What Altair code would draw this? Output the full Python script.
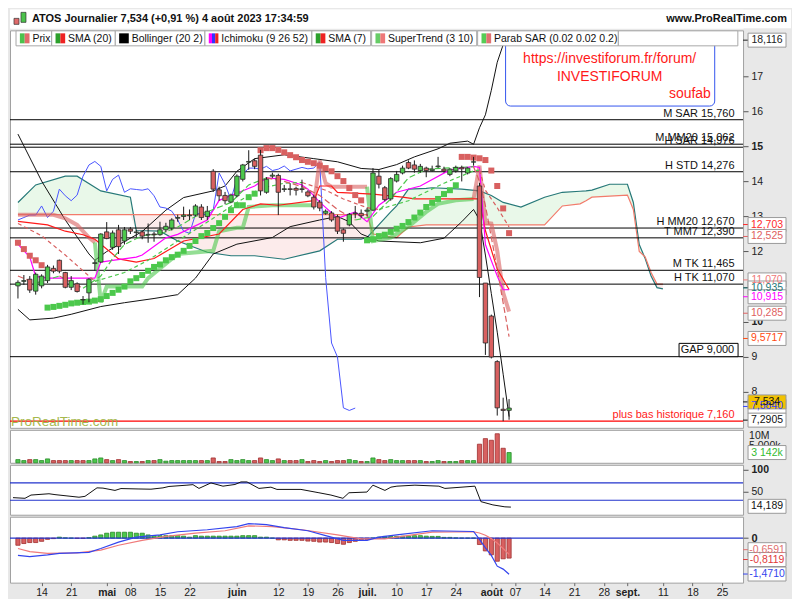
import altair as alt
import pandas as pd

# ---------------------------------------------------------------- data
# trading days 0..83 = 6 Apr 2023 .. 4 Aug 2023
opens = [11.02, 11.15, 11.21, 10.87, 11.02, 11.17, 11.52, 11.75, 11.40, 10.98,
         11.08, 10.63, 10.82, 11.66, 11.70, 12.56, 12.12, 12.62, 12.30, 12.64,
         12.54, 12.56, 12.47, 12.50, 12.48, 12.62, 12.67, 12.95, 13.00, 13.02,
         13.04, 13.27, 13.00, 14.29, 13.76, 13.60, 13.41, 13.59, 14.06, 14.55,
         14.59, 14.75, 13.69, 14.15, 14.17, 13.77, 13.79, 13.80, 13.77, 13.70,
         13.55, 13.41, 13.09, 13.10, 12.99, 12.62, 12.76, 13.08, 13.09, 13.15,
         13.18, 14.15, 13.82, 13.50, 14.01, 14.24, 14.54, 14.47, 14.31, 14.38,
         14.31, 14.42, 14.35, 14.20, 14.30, 14.40, 14.24, 14.55, 13.87, 11.10,
         10.16, 8.86, 7.50, 7.47]
highs = [11.18, 11.33, 11.30, 11.40, 11.35, 11.62, 11.60, 11.77, 11.42, 11.30,
         11.12, 10.73, 11.24, 11.75, 12.52, 12.84, 12.60, 12.76, 12.70, 12.70,
         12.62, 12.60, 12.80, 12.56, 12.85, 12.82, 12.95, 13.05, 13.28, 13.20,
         13.35, 13.35, 13.30, 14.35, 13.85, 13.70, 13.65, 14.20, 14.50, 14.89,
         14.65, 14.90, 14.12, 14.25, 14.22, 13.90, 13.95, 13.85, 14.05, 13.75,
         13.62, 13.47, 13.20, 13.15, 13.05, 12.66, 13.10, 13.30, 13.20, 13.25,
         14.38, 14.33, 13.87, 14.12, 14.30, 14.45, 14.60, 14.60, 14.50, 14.42,
         14.45, 14.70, 14.42, 14.38, 14.45, 14.45, 14.40, 14.70, 13.96, 11.10,
         10.20, 8.90, 7.83, 7.79]
lows = [10.66, 11.05, 10.82, 10.77, 10.95, 11.10, 11.38, 11.38, 10.95, 10.90,
        10.83, 10.49, 10.55, 11.45, 11.68, 12.35, 12.05, 11.93, 12.20, 12.50,
        12.40, 12.35, 12.25, 12.28, 12.45, 12.55, 12.60, 12.85, 12.90, 12.90,
        13.00, 12.90, 12.90, 13.70, 13.45, 13.35, 13.38, 13.55, 14.00, 14.33,
        14.35, 13.60, 13.65, 14.10, 13.04, 13.70, 13.60, 13.60, 13.68, 13.55,
        13.20, 13.15, 13.05, 12.85, 12.50, 12.28, 12.72, 12.95, 12.95, 13.00,
        13.15, 13.80, 13.43, 13.45, 13.97, 14.20, 14.35, 14.25, 14.25, 14.12,
        14.28, 14.38, 14.25, 14.15, 14.25, 14.00, 14.20, 14.45, 10.70, 9.05,
        8.95, 7.32, 7.16, 7.20]
closes = [11.12, 11.17, 10.90, 11.35, 11.30, 11.56, 11.44, 11.44, 10.98, 11.17,
          10.86, 10.62, 11.21, 11.68, 12.50, 12.37, 12.53, 12.14, 12.62, 12.58,
          12.56, 12.44, 12.49, 12.48, 12.62, 12.72, 12.90, 12.97, 13.04, 13.04,
          13.30, 12.97, 13.15, 13.78, 13.59, 13.45, 13.61, 14.15, 14.47, 14.57,
          14.43, 13.73, 14.06, 14.18, 13.69, 13.79, 13.77, 13.75, 13.79, 13.59,
          13.27, 13.24, 13.15, 12.90, 12.58, 12.52, 13.06, 13.10, 13.02, 13.18,
          14.24, 13.92, 13.48, 14.08, 14.20, 14.38, 14.38, 14.35, 14.43, 14.31,
          14.35, 14.44, 14.30, 14.35, 14.40, 14.36, 14.38, 14.56, 11.26, 9.39,
          8.99, 7.54, 7.466, 7.534]
volumes_m = [0.98, 0.68, 0.98, 0.98, 0.68, 1.19, 0.68, 0.68, 0.68, 0.68,
             0.68, 0.68, 0.68, 1.19, 1.48, 0.98, 0.68, 0.98, 0.68, 0.39,
             0.39, 0.39, 0.68, 0.68, 0.98, 0.50, 0.68, 0.68, 0.68, 0.68,
             0.68, 0.68, 0.68, 1.48, 0.39, 0.39, 0.98, 0.68, 0.98, 0.68,
             0.68, 1.48, 0.98, 0.68, 1.19, 0.68, 0.68, 0.68, 0.98, 0.39,
             0.68, 0.39, 0.68, 0.39, 0.68, 0.68, 0.98, 0.68, 0.39, 0.39,
             1.48, 0.98, 0.68, 0.98, 0.68, 0.68, 0.68, 0.68, 0.68, 0.39,
             0.39, 0.68, 0.39, 0.39, 0.39, 0.68, 0.68, 0.68, 5.70, 7.40,
             6.90, 8.90, 4.45, 3.142]

sar_vals = [12.25, 12.07, 11.88, 11.75, 11.61,
            10.40, 10.42, 10.45, 10.48, 10.52, 10.54, 10.56, 10.57, 10.60, 10.64,
            10.73, 10.82, 10.91, 11.00, 11.15, 11.24, 11.33, 11.45, 11.56, 11.63,
            11.75, 11.84, 11.91, 12.02, 12.16, 12.30, 12.44, 12.53, 12.67, 12.81,
            12.99, 13.18, 13.32, 13.32, 13.55, 13.65,
            14.89, 14.95, 14.95, 14.90, 14.83, 14.75, 14.69, 14.61, 14.56, 14.52,
            14.45, 14.38, 14.29, 14.15, 14.01, 13.81, 13.61, 13.46,
            12.32, 12.35, 12.44, 12.48, 12.56, 12.65, 12.73, 12.84, 12.97, 13.11,
            13.27, 13.39, 13.50, 13.64, 13.75, 13.89,
            14.70, 14.70, 14.68, 14.66, 14.61, 14.31, 13.87, 13.23, 12.525]

st_idx = [0, 6, 8, 10, 12, 13,
          14, 15, 21, 22, 25, 27, 33, 34, 37, 38, 39, 43, 50,
          51, 52, 53, 59,
          60, 63, 66, 69, 71, 74, 77,
          78, 79, 80, 81, 82, 83]
st_vals = [13.05, 13.05, 12.95, 12.76, 12.40, 12.26,
           10.55, 11.00, 11.00, 11.24, 11.65, 11.93, 12.02, 12.58, 12.68, 12.68, 13.27, 13.32, 13.32,
           14.60, 13.95, 13.85, 13.85,
           12.30, 12.40, 12.71, 13.13, 13.36, 13.46, 13.50,
           14.45, 12.82, 12.80, 12.02, 10.83, 10.285]
st_up = [0] * 6 + [1] * 13 + [0] * 4 + [1] * 7 + [0] * 6

sma20_idx = [0, 4, 8, 13, 18, 22, 27, 33, 37, 41, 45, 48, 52, 55, 59, 61, 66, 72, 77, 78, 79, 81, 83]
sma20_vals = [12.80, 12.45, 11.90, 11.15, 11.40, 11.75, 12.30, 12.95, 13.40, 13.80, 13.95, 13.97,
              13.75, 13.50, 13.25, 13.20, 13.45, 13.95, 14.30, 14.32, 13.75, 13.25, 12.703]
sma7_idx = [0, 3, 7, 11, 14, 16, 18, 21, 24, 27, 30, 33, 36, 39, 42, 45, 48, 51, 54, 57,
            60, 63, 66, 69, 72, 77, 78, 79, 81, 83]
sma7_vals = [11.30, 11.10, 11.30, 10.95, 11.30, 11.80, 12.20, 12.45, 12.50, 12.70, 13.00, 13.20,
             13.40, 13.90, 14.10, 14.00, 13.85, 13.60, 13.20, 12.90, 13.00, 13.50, 14.10, 14.35,
             14.38, 14.42, 14.00, 13.31, 11.50, 9.5717]

bbu_idx = [0, 4, 8, 12, 13, 15, 21, 25, 28, 33, 35, 37, 40, 45, 50, 54, 58, 61, 64, 67,
           71, 73, 76, 77, 78, 79, 80, 81, 82, 83]
bbu_vals = [15.35, 14.01, 12.90, 11.93, 11.75, 12.00, 12.57, 13.18, 13.54, 13.73, 13.87, 14.29,
            14.65, 14.76, 14.65, 14.56, 14.37, 14.34, 14.48, 14.70, 14.93, 15.09, 15.15, 15.06,
            15.53, 15.90, 16.60, 17.40, 17.90, 18.116]
bbl_idx = [0, 2, 6, 9, 14, 18, 23, 27, 30, 33, 37, 43, 46, 51, 54, 56, 58, 61, 68, 72,
           75, 77, 78, 79, 80, 81, 82, 83]
bbl_vals = [10.35, 10.05, 10.10, 10.21, 10.43, 10.54, 10.66, 10.77, 11.24, 11.93, 12.21, 12.40,
            12.71, 12.90, 13.00, 12.85, 12.50, 12.30, 12.25, 12.38, 12.85, 13.20, 12.90, 11.90,
            10.80, 9.70, 8.50, 7.2905]

tenkan_idx = [0, 2, 3, 5, 13, 14, 16, 20, 21, 25, 27, 32, 34, 36, 40, 42, 45, 48, 49, 50,
              51, 54, 57, 59, 61, 64, 68, 73, 77, 78, 79, 80, 81, 82, 83]
tenkan_vals = [12.21, 11.84, 11.29, 11.24, 11.24, 11.70, 11.75, 11.84, 11.90, 12.39, 12.49, 12.90,
               13.46, 13.60, 13.87, 14.10, 14.06, 13.90, 13.78, 13.59, 13.41, 12.95, 13.13, 12.85,
               13.32, 13.69, 13.87, 14.33, 14.43, 14.40, 12.20, 11.74, 11.30, 10.91, 10.915]
kijun_idx = [0, 5, 8, 11, 13, 17, 20, 23, 28, 34, 38, 41, 44, 50, 51, 53, 54, 60, 65, 67,
             78, 79, 81, 83]
kijun_vals = [12.86, 12.76, 12.58, 12.48, 12.35, 11.79, 11.70, 11.80, 12.30, 12.50, 13.20, 13.36,
              13.32, 13.45, 13.87, 13.87, 13.69, 13.64, 13.55, 13.50, 13.50, 12.60, 11.50, 10.915]

cloud_idx = [0, 3, 8, 10, 14, 19, 20, 24, 27, 32, 36, 40, 45, 51, 54, 58, 59, 60, 63, 64,
             66, 69, 70, 75, 78, 80, 82, 85, 89, 92, 95, 96, 97, 100, 103, 104, 105, 106, 107, 108, 109]
senkou_a = [13.40, 13.90, 14.15, 14.15, 13.73, 13.55, 12.60, 12.58, 12.30, 11.98, 11.88, 11.88,
            11.78, 12.02, 12.35, 12.35, 12.40, 12.58, 13.13, 13.30, 13.78, 13.80, 13.82, 13.78,
            13.73, 13.60, 13.40, 13.27, 13.55, 13.69, 13.72, 13.73, 13.75, 13.92, 13.92, 13.40,
            12.20, 11.80, 11.30, 10.97, 10.935]
senkou_b = [13.05] * 17 + [12.50, 12.42, 12.40, 12.70, 12.76, 12.76, 12.76, 12.76, 12.76, 12.76,
                           12.76, 12.76, 13.30, 13.36, 13.45, 13.55, 13.58, 13.61, 13.20, 12.00,
                           11.85, 11.40, 11.07, 11.07]

rsi_idx = [0, 2, 3, 6, 7, 9, 11, 12, 14, 15, 17, 18, 21, 23, 25, 26, 29, 30, 31, 33,
           35, 37, 38, 39, 41, 43, 44, 48, 51, 53, 55, 56, 59, 60, 62, 63, 64, 67, 71, 72,
           77, 78, 80, 82, 83]
rsi_vals = [36, 34.5, 42, 45, 43, 40, 37, 39, 58.6, 58, 52.7, 57, 56, 55.5, 58.6, 61.8, 64.8, 66,
            57.3, 70, 62.5, 66.4, 72.3, 72.3, 57.3, 60.2, 55, 55, 47.3, 42, 34.5, 47.3, 48.9,
            64.8, 52.7, 60.2, 62.5, 64.8, 62.5, 57.3, 62.5, 26.8, 19.3, 14.8, 14.189]

macd_idx = [0, 2, 5, 7, 12, 14, 17, 20, 24, 27, 32, 37, 39, 42, 45, 49, 52, 55, 59, 61,
            64, 70, 77, 78, 79, 80, 81, 82, 83]
macd_vals = [-0.70, -0.75, -0.68, -0.62, -0.58, -0.42, -0.16, 0.04, 0.13, 0.26, 0.34, 0.47,
             0.59, 0.55, 0.43, 0.30, 0.10, -0.09, -0.09, 0.04, 0.13, 0.30, 0.27, -0.05, -0.40,
             -0.70, -1.14, -1.26, -1.471]
signal_idx = [0, 2, 5, 10, 14, 17, 21, 25, 30, 35, 39, 43, 48, 54, 58, 62, 64, 70, 77, 78,
              79, 80, 81, 82, 83]
signal_vals = [-0.42, -0.55, -0.62, -0.60, -0.49, -0.29, -0.09, 0.07, 0.20, 0.30, 0.50, 0.47,
               0.34, 0.13, -0.03, -0.03, 0.04, 0.24, 0.26, 0.21, 0.12, -0.02, -0.20, -0.42, -0.6591]
hist_vals = [-0.29, -0.22, -0.18, -0.18, -0.13, -0.05, -0.02, 0.04, 0.01, 0.0,
             -0.01, -0.01, 0.02, 0.08, 0.13, 0.20, 0.24, 0.24, 0.24, 0.24,
             0.20, 0.20, 0.13, 0.10, 0.10, 0.10, 0.10, 0.10, 0.08, 0.04,
             0.10, 0.08, 0.08, 0.08, 0.08, 0.08, 0.08, 0.08, 0.10, 0.10,
             0.10, 0.04, 0.04, 0.0, -0.07, -0.07, -0.09, -0.09, -0.09, -0.12,
             -0.13, -0.16, -0.16, -0.18, -0.22, -0.25, -0.18, -0.13, -0.09, -0.05,
             0.0, 0.04, 0.07, 0.07, 0.07, 0.08, 0.08, 0.10, 0.10, 0.08,
             0.07, 0.07, 0.03, 0.03, 0.01, 0.0, 0.0, 0.0, -0.26, -0.52,
             -0.68, -0.94, -0.84, -0.8119]

level_vals = [15.760, 15.062, 14.976, 14.276, 12.670, 12.390, 11.465, 11.070]
level_txt = ["M SAR 15,760", "M MM20 15,062", "H SAR 14,976", "H STD 14,276",
             "H MM20 12,670", "T MM7 12,390", "M TK 11,465", "H TK 11,070"]
gap_val, gap_txt = 9.000, "GAP 9,000"
low_val, low_txt = 7.160, "plus bas historique 7,160"

tick_idx = [4, 9, 15, 19, 24, 29, 37, 44, 49, 54, 59, 64, 69, 74, 80, 84, 89, 94, 99, 103, 109, 114, 119]
tick_lbl = ["14", "21", "mai", "08", "15", "22", "juin", "12", "19", "26", "juil.", "10", "17", "24",
            "août", "07", "14", "21", "28", "sept.", "11", "18", "25"]
month_idx = [15, 37, 59, 80, 103]

price_lbl_txt = ["18,116", "12,703", "12,525", "11,070", "10,935", "10,915", "10,285", "9,5717",
                 "7,5840", "7,534", "7,2905"]
price_lbl_pos = [18.03, 12.77, 12.43, 11.19, 10.96, 10.71, 10.24, 9.52, 7.58, 7.71, 7.19]
price_lbl_col = ["#222222", "#ff2a2a", "#e06060", "#f07a7a", "#1f7a7a", "#ff00ff", "#e06060",
                 "#ff4a10", "#3344ff", "#111111", "#111111"]
price_lbl_bg = ["white"] * 9 + ["#f2c200", "white"]

legend_names = ["Prix", "SMA (20)", "Bollinger (20 2)", "Ichimoku (9 26 52)", "SMA (7)",
                "SuperTrend (3 10)", "Parab SAR (0.02 0.02 0.2)", ""]
legend_icons = [["#4cc24c", "#e06a6a"], ["#2ca02c", "#ee2222"], ["#000000"],
                ["#ff00ff", "#3333ff", "#ee2222"], ["#2ca02c", "#ee2222"],
                ["#66cc66", "#ee7777"], ["#55cc55", "#e07070"], []]

# ---------------------------------------------------------------- layout
FONT = "Liberation Sans"
W, AX = 734, 48
H_HEAD, H_PRICE, H_VOL, H_RSI, H_MACD = 19, 398, 33, 50, 66
XDOM = [-0.5, 121.7]
GREEN, RED = "#4cc24c", "#e06a6a"
legend_x0 = [3, 40, 106, 199, 310, 372, 482, 628]
legend_x1 = [40, 106, 199, 310, 371, 481, 628, 752]


def ref2i(px):
    return (px - 5.0) / 6.14


XS = alt.Scale(domain=XDOM, nice=False, zero=False)


def xq(f, axis=None):
    return alt.X(f + ":Q", scale=XS, axis=axis)


def runs(xs, ys, flags):
    rows, seg = [], 0
    for k in range(len(xs)):
        if k > 0 and flags[k] != flags[k - 1]:
            seg += 1
            rows.append({"x": xs[k - 1], "y": ys[k - 1], "seg": seg, "f": flags[k]})
        rows.append({"x": xs[k], "y": ys[k], "seg": seg, "f": flags[k]})
    return pd.DataFrame(rows)


def slope_runs(xs, ys):
    flags = []
    for k in range(len(xs)):
        a, b = (0, 1) if k == 0 else (k - 1, k)
        flags.append("up" if ys[b] >= ys[a] else "dn")
    return runs(xs, ys, flags)


n = len(closes)
candles = pd.DataFrame({"i": list(range(n)), "o": opens, "h": highs, "l": lows, "c": closes,
                        "v": volumes_m, "sar": sar_vals, "hist": hist_vals})
candles["dir"] = ["up" if c >= o else "dn" for o, c in zip(opens, closes)]
candles["sardir"] = ["dn" if s > c else "up" for s, c in zip(sar_vals, closes)]
candles["hdir"] = ["up" if h >= 0 else "dn" for h in hist_vals]
one = pd.DataFrame({"a": [0]})

DIRC = alt.Scale(domain=["up", "dn"], range=[GREEN, RED])

# ---------------------------------------------------------------- header
header = alt.layer(
    alt.Chart(one).mark_rect(color="white").encode(
        x=alt.value(0), x2=alt.value(W + AX), y=alt.value(0), y2=alt.value(H_HEAD)),
    alt.Chart(one).mark_rect(color=RED, stroke="#333", strokeWidth=0.7).encode(
        x=alt.value(4), x2=alt.value(9), y=alt.value(9), y2=alt.value(15)),
    alt.Chart(one).mark_rect(color=GREEN, stroke="#333", strokeWidth=0.7).encode(
        x=alt.value(11), x2=alt.value(16), y=alt.value(3), y2=alt.value(13)),
    alt.Chart(one).mark_text(text="ATOS Journalier 7,534 (+0,91 %) 4 août 2023 17:34:59",
                             fontSize=11, fontWeight="bold", align="left", baseline="middle",
                             color="#111").encode(x=alt.value(22), y=alt.value(10)),
    alt.Chart(one).mark_text(text="www.ProRealTime.com", fontSize=11, fontWeight="bold",
                             align="right", baseline="middle", color="#111").encode(
        x=alt.value(W + AX - 4), y=alt.value(10)),
).properties(width=W, height=H_HEAD, view=alt.ViewBackground(stroke="transparent"))

# ---------------------------------------------------------------- price panel
PS = alt.Scale(domain=[6.97, 18.31], nice=False, zero=False)
PAXIS = alt.Axis(orient="right", values=list(range(8, 18)), tickSize=5, tickColor="#555",
                 labelFontSize=10.5, labelColor="#222", labelFont=FONT, labelPadding=3,
                 grid=False, domain=False, title=None,
                 labelFontWeight={"condition": {"test": "datum.value == 10 || datum.value == 15",
                                                "value": "bold"}, "value": "normal"})


def py(f):
    return alt.Y(f + ":Q", scale=PS, axis=PAXIS)


cloud = pd.DataFrame({"i": cloud_idx, "a": senkou_a, "b": senkou_b})
levels = pd.DataFrame({"v": level_vals, "t": level_txt, "xl": [121.1] * len(level_vals)})
bbu = pd.DataFrame({"i": bbu_idx, "y": bbu_vals})
bbl = pd.DataFrame({"i": bbl_idx, "y": bbl_vals})
tenkan = pd.DataFrame({"i": tenkan_idx, "y": tenkan_vals})
kijun = pd.DataFrame({"i": kijun_idx, "y": kijun_vals})
st = runs(st_idx, st_vals, ["up" if u else "dn" for u in st_up])
s20 = slope_runs(sma20_idx, sma20_vals)
s7 = slope_runs(sma7_idx, sma7_vals)

P = []
P.append(alt.Chart(cloud).transform_calculate(lo="min(datum.a, datum.b)").mark_area(
    color="#e9f8e9").encode(x=xq("i"), y=py("a"), y2=alt.Y2("lo")))
P.append(alt.Chart(cloud).transform_calculate(lo="min(datum.a, datum.b)").mark_area(
    color="#fcebeb").encode(x=xq("i"), y=py("b"), y2=alt.Y2("lo")))
P.append(alt.Chart(cloud).mark_line(color="#267878", strokeWidth=1.2).encode(x=xq("i"), y=py("a")))
P.append(alt.Chart(cloud).mark_line(color="#f27b6b", strokeWidth=1.2).encode(x=xq("i"), y=py("b")))
P.append(alt.Chart(levels).mark_rule(color="#000", strokeWidth=1).encode(
    y=py("v"), x=alt.value(0), x2=alt.value(W)))
P.append(alt.Chart(pd.DataFrame({"v": [gap_val]})).mark_rule(color="#000", strokeWidth=1).encode(
    y=py("v"), x=alt.value(0), x2=alt.value(W)))
P.append(alt.Chart(pd.DataFrame({"v": [low_val]})).mark_rule(color="#ff0000", strokeWidth=1.2).encode(
    y=py("v"), x=alt.value(0), x2=alt.value(W)))
P.append(alt.Chart(bbu).mark_line(color="#111", strokeWidth=1).encode(x=xq("i"), y=py("y")))
P.append(alt.Chart(bbl).mark_line(color="#111", strokeWidth=1).encode(x=xq("i"), y=py("y")))
P.append(alt.Chart(candles).transform_calculate(ch="datum.i - 26").transform_filter(
    "datum.ch >= 0").mark_line(color="#4a55ff", strokeWidth=1).encode(x=xq("ch"), y=py("c")))
P.append(alt.Chart(st).mark_line(strokeWidth=4, opacity=0.6).encode(
    x=xq("x"), y=py("y"), detail="seg:N",
    color=alt.Color("f:N", scale=alt.Scale(domain=["up", "dn"], range=["#4cc84c", "#d86060"]),
                    legend=None)))
P.append(alt.Chart(kijun).mark_line(color="#ff1a1a", strokeWidth=1.2).encode(x=xq("i"), y=py("y")))
P.append(alt.Chart(tenkan).mark_line(color="#ff00ff", strokeWidth=1.2).encode(x=xq("i"), y=py("y")))
P.append(alt.Chart(s20).mark_line(strokeWidth=1.2, strokeDash=[4, 3]).encode(
    x=xq("x"), y=py("y"), detail="seg:N",
    color=alt.Color("f:N", scale=alt.Scale(domain=["up", "dn"], range=["#2f9f2f", "#f05a5a"]),
                    legend=None)))
P.append(alt.Chart(s7).mark_line(strokeWidth=1.2, strokeDash=[6, 3]).encode(
    x=xq("x"), y=py("y"), detail="seg:N",
    color=alt.Color("f:N", scale=alt.Scale(domain=["up", "dn"], range=["#3aa83a", "#ff6420"]),
                    legend=None)))
P.append(alt.Chart(candles).mark_square(size=36, opacity=1).encode(
    x=xq("i"), y=py("sar"),
    color=alt.Color("sardir:N", scale=alt.Scale(domain=["up", "dn"], range=["#52c852", "#dc6a6a"]),
                    legend=None)))
P.append(alt.Chart(candles).mark_rule(color="#1a1a1a", strokeWidth=1).encode(
    x=xq("i"), y=py("l"), y2=alt.Y2("h")))
P.append(alt.Chart(candles).mark_bar(width=4.4, stroke="#2a2a2a", strokeWidth=0.8).encode(
    x=xq("i"), y=py("o"), y2=alt.Y2("c"),
    color=alt.Color("dir:N", scale=DIRC, legend=None)))
P.append(alt.Chart(levels).mark_text(fontSize=11, align="right", baseline="bottom", dy=-1,
                                     color="#111").encode(x=xq("xl"), y=py("v"), text="t:N"))
gapbox = pd.DataFrame({"x0": [ref2i(691)], "x1": [XDOM[1]], "y0": [gap_val], "y1": [9.38],
                       "xm": [ref2i(720.5)], "ym": [9.19], "t": [gap_txt]})
P.append(alt.Chart(gapbox).mark_rect(fill="white", stroke="#000", strokeWidth=1).encode(
    x=xq("x0"), x2=alt.X2("x1"), y=py("y0"), y2=alt.Y2("y1")))
P.append(alt.Chart(gapbox).mark_text(fontSize=11, align="center", baseline="middle",
                                     color="#111").encode(x=xq("xm"), y=py("ym"), text="t:N"))
lowlbl = pd.DataFrame({"v": [low_val], "xl": [121.1], "t": [low_txt]})
P.append(alt.Chart(lowlbl).mark_text(fontSize=11, align="right", baseline="bottom", dy=-1,
                                     color="#ff1a1a").encode(x=xq("xl"), y=py("v"), text="t:N"))
P.append(alt.Chart(one).mark_text(text="ProRealTime.com", fontSize=13.5, align="left",
                                  baseline="bottom", color="#9db23a", opacity=0.9).encode(
    x=alt.value(1), y=alt.value(H_PRICE + 1)))
# investiforum note
note = pd.DataFrame({"x0": [ref2i(511)], "x1": [ref2i(728)], "y0": [16.15], "y1": [18.1]})
P.append(alt.Chart(note).mark_rect(fill="white", stroke="#3355ee", strokeWidth=1,
                                   cornerRadius=5).encode(
    x=xq("x0"), x2=alt.X2("x1"), y=py("y0"), y2=alt.Y2("y1")))
note_txt = pd.DataFrame({"x": [ref2i(619), ref2i(619), ref2i(724)], "y": [17.48, 16.98, 16.48],
                         "t": ["https://investiforum.fr/forum/", "INVESTIFORUM", "soufab"],
                         "al": ["center", "center", "right"]})
for al in ["center", "right"]:
    P.append(alt.Chart(note_txt[note_txt.al == al]).mark_text(
        fontSize=14, align=al, baseline="middle", color="#ff1a1a").encode(
        x=xq("x"), y=py("y"), text="t:N"))
# legend row
lrows, irows = [], []
for name, x0, x1, icons in zip(legend_names, legend_x0, legend_x1, legend_icons):
    lrows.append({"x0": ref2i(x0), "x1": ref2i(x1), "tx": ref2i(x0 + 17), "t": name})
    for k, col in enumerate(icons):
        wk = 10.0 / len(icons)
        irows.append({"x0": ref2i(x0 + 4 + k * wk), "x1": ref2i(x0 + 4 + (k + 1) * wk), "c": col})
ldf, idf = pd.DataFrame(lrows), pd.DataFrame(irows)
P.append(alt.Chart(ldf).mark_rect(fill="white", stroke="#a8a8a8", strokeWidth=1).encode(
    x=xq("x0"), x2=alt.X2("x1"), y=alt.value(0.5), y2=alt.value(15.5)))
P.append(alt.Chart(idf).mark_rect().encode(
    x=xq("x0"), x2=alt.X2("x1"), y=alt.value(3), y2=alt.value(13),
    color=alt.Color("c:N", scale=None)))
P.append(alt.Chart(ldf).mark_text(fontSize=10.5, align="left", baseline="middle",
                                  color="#111").encode(x=xq("tx"), y=alt.value(8.5), text="t:N"))
# right side boxed labels
plbl = pd.DataFrame({"pos": price_lbl_pos, "t": price_lbl_txt, "c": price_lbl_col,
                     "bg": price_lbl_bg})
P.append(alt.Chart(plbl).mark_rule(strokeWidth=1).encode(
    x=alt.value(W), x2=alt.value(W + 5), y=py("pos"), color=alt.Color("c:N", scale=None)))
P.append(alt.Chart(plbl).mark_rect(yOffset=-7, y2Offset=7, stroke="#9a9a9a", strokeWidth=1).encode(
    x=alt.value(W + 5), x2=alt.value(W + 43), y=py("pos"), y2=alt.Y2("pos"),
    fill=alt.Fill("bg:N", scale=None)))
P.append(alt.Chart(plbl).mark_text(fontSize=10.5, align="center", baseline="middle").encode(
    x=alt.value(W + 24), y=py("pos"), text="t:N", color=alt.Color("c:N", scale=None)))

price = alt.layer(*P).properties(width=W, height=H_PRICE)

# ---------------------------------------------------------------- volume panel
VS = alt.Scale(domain=[0, 10.1], nice=False, zero=True)
vol = alt.layer(
    alt.Chart(candles).mark_bar(width=4.2, strokeWidth=0.8).encode(
        x=xq("i"), y=alt.Y("v:Q", scale=VS, axis=None),
        color=alt.Color("dir:N", scale=DIRC, legend=None),
        stroke=alt.Stroke("dir:N", scale=alt.Scale(domain=["up", "dn"], range=["#2a8a2a", "#a03030"]),
                          legend=None)),
    alt.Chart(one).mark_text(text="10M", fontSize=10.5, align="left", baseline="middle",
                             color="#222").encode(x=alt.value(W + 6), y=alt.value(6)),
    alt.Chart(one).mark_text(text="5,000k", fontSize=10.5, align="left", baseline="middle",
                             color="#222").encode(x=alt.value(W + 6), y=alt.value(16)),
    alt.Chart(pd.DataFrame({"v": [3.142]})).mark_rect(yOffset=-7, y2Offset=7, fill="white",
                                                       stroke="#9a9a9a").encode(
        x=alt.value(W + 5), x2=alt.value(W + 43), y=alt.Y("v:Q", scale=VS, axis=None),
        y2=alt.Y2("v")),
    alt.Chart(pd.DataFrame({"v": [3.142]})).mark_text(text="3 142k", fontSize=10.5, align="center",
                                                       baseline="middle", color="#33bb33").encode(
        x=alt.value(W + 24), y=alt.Y("v:Q", scale=VS, axis=None)),
).properties(width=W, height=H_VOL)

# ---------------------------------------------------------------- RSI panel
RS = alt.Scale(domain=[-3.4, 111.8], nice=False, zero=False)
RAXIS = alt.Axis(orient="right", values=[50, 100], tickSize=5, tickColor="#555", labelFontSize=10.5,
                 labelColor="#222", labelFont=FONT, labelPadding=3, grid=False, domain=False,
                 title=None,
                 labelFontWeight={"condition": {"test": "datum.value == 100", "value": "bold"},
                                  "value": "normal"})
rsi_df = pd.DataFrame({"i": rsi_idx, "y": rsi_vals})
rsi = alt.layer(
    alt.Chart(pd.DataFrame({"v": [70, 30]})).mark_rule(color="#2233cc", strokeWidth=1.2).encode(
        y=alt.Y("v:Q", scale=RS, axis=RAXIS), x=alt.value(0), x2=alt.value(W)),
    alt.Chart(rsi_df).mark_line(color="#111", strokeWidth=1).encode(
        x=xq("i"), y=alt.Y("y:Q", scale=RS, axis=RAXIS)),
    alt.Chart(pd.DataFrame({"v": [16.0]})).mark_rect(yOffset=-7, y2Offset=7, fill="white",
                                                      stroke="#9a9a9a").encode(
        x=alt.value(W + 5), x2=alt.value(W + 43), y=alt.Y("v:Q", scale=RS, axis=RAXIS),
        y2=alt.Y2("v")),
    alt.Chart(pd.DataFrame({"v": [16.0]})).mark_text(text="14,189", fontSize=10.5, align="center",
                                                      baseline="middle", color="#111").encode(
        x=alt.value(W + 24), y=alt.Y("v:Q", scale=RS, axis=RAXIS)),
).properties(width=W, height=H_RSI)

# ---------------------------------------------------------------- MACD panel
MS = alt.Scale(domain=[-1.81, 0.87], nice=False, zero=False)
MAXIS = alt.Axis(orient="right", values=[0], tickSize=5, tickColor="#555", labelFontSize=11,
                 labelFontWeight="bold", labelColor="#222", labelFont=FONT, labelPadding=3,
                 grid=False, domain=False, title=None)
js_vals = "[" + ",".join(str(v) for v in tick_idx) + "]"
js_lbls = "[" + ",".join("'" + s + "'" for s in tick_lbl) + "]"
js_month = "[" + ",".join(str(v) for v in month_idx) + "]"
XAX = alt.Axis(values=tick_idx, labelExpr=f"{js_lbls}[indexof({js_vals}, datum.value)]",
               tickSize=3, tickColor="#666", labelFontSize=10.5, labelColor="#222", labelFont=FONT,
               labelPadding=2, grid=False, domain=False, title=None, labelOverlap=False,
               labelFontWeight={"condition": {"test": f"indexof({js_month}, datum.value) >= 0",
                                              "value": "bold"}, "value": "normal"})


def mx(f):
    return alt.X(f + ":Q", scale=XS, axis=XAX)


def my(f):
    return alt.Y(f + ":Q", scale=MS, axis=MAXIS)


macd_df = pd.DataFrame({"i": macd_idx, "y": macd_vals})
sig_df = pd.DataFrame({"i": signal_idx, "y": signal_vals})
mlbl = pd.DataFrame({"pos": [-0.47, -0.87, -1.46], "t": ["-0,6591", "-0,8119", "-1,4710"],
                     "c": ["#e07070", "#e03a3a", "#3344ee"]})
macd = alt.layer(
    alt.Chart(candles).mark_bar(width=4.2, strokeWidth=0.8).encode(
        x=mx("i"), y=my("hist"), y2=alt.datum(0),
        color=alt.Color("hdir:N", scale=DIRC, legend=None),
        stroke=alt.Stroke("hdir:N", scale=alt.Scale(domain=["up", "dn"], range=["#2a8a2a", "#a03030"]),
                          legend=None)),
    alt.Chart(pd.DataFrame({"v": [0.0]})).mark_rule(color="#2233cc", strokeWidth=1.2).encode(
        y=my("v"), x=alt.value(0), x2=alt.value(W)),
    alt.Chart(sig_df).mark_line(color="#f07a7a", strokeWidth=1.2).encode(x=mx("i"), y=my("y")),
    alt.Chart(macd_df).mark_line(color="#3344ee", strokeWidth=1.2).encode(x=mx("i"), y=my("y")),
    alt.Chart(mlbl).mark_rule(strokeWidth=1).encode(
        x=alt.value(W), x2=alt.value(W + 5), y=my("pos"), color=alt.Color("c:N", scale=None)),
    alt.Chart(mlbl).mark_rect(yOffset=-7, y2Offset=7, fill="white", stroke="#9a9a9a").encode(
        x=alt.value(W + 5), x2=alt.value(W + 43), y=my("pos"), y2=alt.Y2("pos")),
    alt.Chart(mlbl).mark_text(fontSize=10.5, align="center", baseline="middle").encode(
        x=alt.value(W + 24), y=my("pos"), text="t:N", color=alt.Color("c:N", scale=None)),
).properties(width=W, height=H_MACD)

chart = alt.vconcat(header, price, vol, rsi, macd, spacing=0).properties(
    padding=0, background="#e8e8e8"
).configure_view(stroke="#a0a0a0", fill="white").configure_axis(labelFont=FONT).configure_text(font=FONT)

chart.save("out.html", embed_options={"renderer": "svg", "actions": False})
